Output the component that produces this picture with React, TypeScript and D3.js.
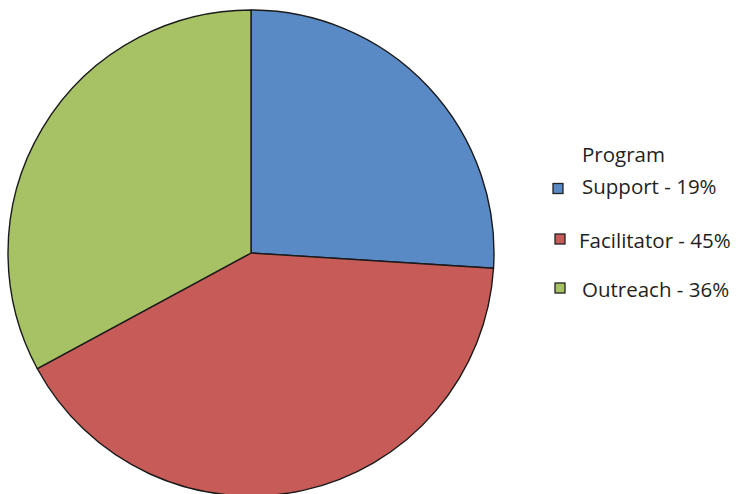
import React from "react";
import * as d3 from "d3";

const categories = ["Support", "Facilitator", "Outreach"];
const sliceValues = [26.0, 41.1, 32.9];
const legendLabels = ["Support - 19%", "Facilitator - 45%", "Outreach - 36%"];
const colors = ["#5A8AC6", "#C65B57", "#A7C264"];
const legendTitle = "Program";

export default function App() {
  const width = 736;
  const height = 494;
  const cx = 251;
  const cy = 253;
  const r = 243;

  const pie = d3.pie<number>().sort(null).value((d) => d);
  const arcs = pie(sliceValues);
  const arc = d3.arc<d3.PieArcDatum<number>>().innerRadius(0).outerRadius(r);

  const legendX = [553, 555, 555];
  const legendY = [188.5, 239, 288];
  const textX = [582, 579, 582];
  const baseY = [194, 248, 297];

  return (
    <svg
      width={width}
      height={height}
      style={{ position: "absolute", left: 0, top: 0, background: "#fff" }}
      fontFamily="'Open Sans', 'Noto Sans', sans-serif"
    >
      <g transform={`translate(${cx},${cy})`}>
        {arcs.map((a, i) => (
          <path
            key={categories[i]}
            d={arc(a) || ""}
            fill={colors[i]}
            stroke="#1a1a1a"
            strokeWidth={1.4}
            strokeLinejoin="round"
          />
        ))}
      </g>
      <text x={582} y={162} fontSize={20.5} fill="#231f20">
        {legendTitle}
      </text>
      {categories.map((c, i) => (
        <g key={c}>
          <rect
            x={legendX[i]}
            y={legendY[i] - 5}
            width={10}
            height={10}
            fill={colors[i]}
            stroke="#222"
            strokeWidth={1.3}
          />
          <text x={textX[i]} y={baseY[i]} fontSize={20.5} fill="#231f20">
            {legendLabels[i]}
          </text>
        </g>
      ))}
    </svg>
  );
}
